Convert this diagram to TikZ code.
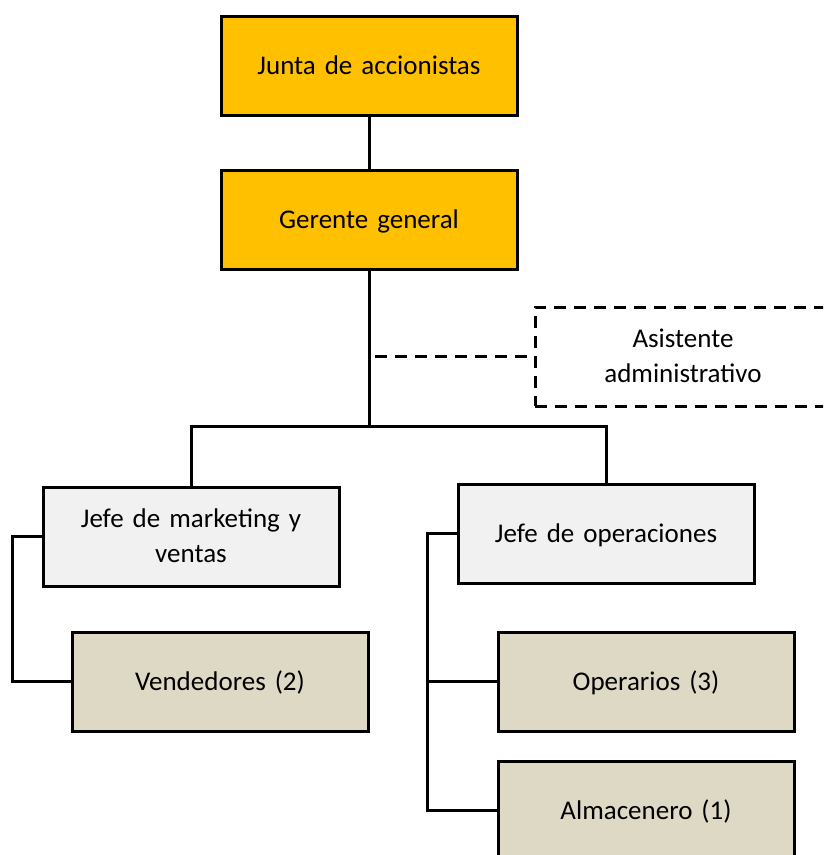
\documentclass[tikz,border=0pt]{standalone}
\usepackage{fontspec}
\setmainfont{Carlito}
\definecolor{gold}{HTML}{FFC000}
\definecolor{paleGray}{HTML}{F1F1F1}
\definecolor{tan}{HTML}{DDD9C4}
% fixed line metrics so every label sits at the same place in its box
\newcommand\boxstrut{\rule[-5.4pt]{0pt}{28.4pt}}
\begin{document}
\begin{tikzpicture}[x=1pt,y=-1pt,
  box/.style={draw=black, line width=3pt, minimum width=296pt, minimum height=99pt,
    inner sep=0pt, align=center, text width=285pt,
    font=\fontsize{27}{35}\selectfont,
    execute at begin node=\boxstrut, execute at end node=\boxstrut},
  topbox/.style={box, fill=gold},
  chiefbox/.style={box, fill=paleGray},
  staffbox/.style={box, fill=tan},
  link/.style={line width=3pt, line join=miter},
  dashlink/.style={line width=3pt, dash pattern=on 12pt off 8pt}]
\useasboundingbox (0,0) rectangle (823,855);
\clip (0,0) rectangle (823,855);
\fill[white] (0,0) rectangle (823,855);

% top of the hierarchy
\node[topbox] (junta) at (369,65.5) {Junta de accionistas};
\node[topbox] (gerente) at (369,220) {Gerente general};

% staff advisor
\node[box, dashlink, fill=none] (asist) at (683,356.5) {Asistente\\administrativo};

% department heads
\node[chiefbox] (mkt) at (191,536.5) {Jefe de marketing y\\ventas};
\node[chiefbox] (ops) at (606,533.5) {Jefe de operaciones};

% staff under each head
\node[staffbox] (vend) at (220,681.5) {Vendedores (2)};
\node[staffbox] (oper) at (646,681.5) {Operarios (3)};
\node[staffbox] (alm) at (646,810.5) {Almacenero (1)};

% connector anchor points
\coordinate (hub) at (369,426);
\coordinate (asistjoin) at (375,356.5);
\coordinate (mktrail) at (12,536.5);
\coordinate (opsrail) at (427,533.5);

% lines
\draw[link] (junta) -- (gerente);
\draw[link] (gerente.south) -- (hub);
\draw[link] (mkt.north) |- (hub) -| (ops.north);
\draw[dashlink] (asistjoin) -- (asist.west);
\draw[link] (mkt.west) -- (mktrail) |- (vend.west);
\draw[link] (ops.west) -- (opsrail) |- (alm.west);
\draw[link] (opsrail |- oper.west) -- (oper.west);
\end{tikzpicture}
\end{document}
